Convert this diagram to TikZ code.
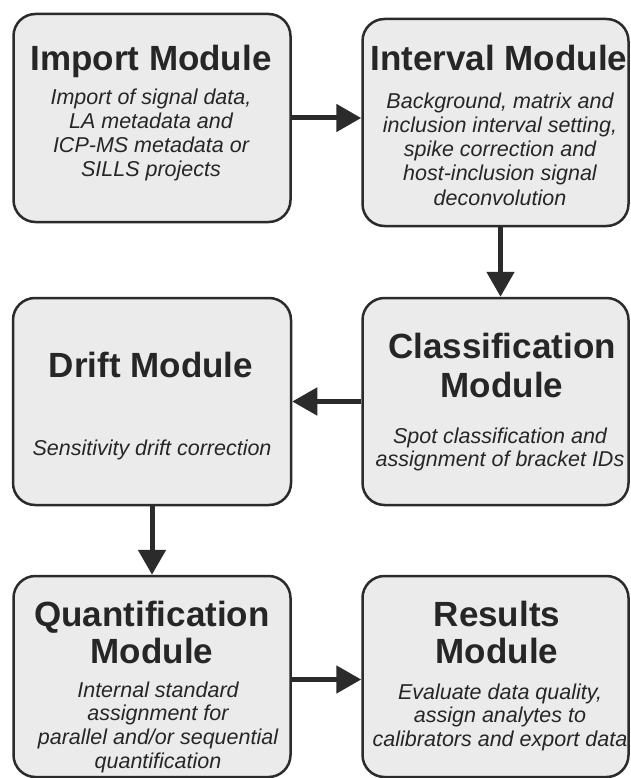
\documentclass[tikz,border=0pt]{standalone}
\usepackage{fontspec}
\setmainfont{Liberation Sans}
\usetikzlibrary{arrows.meta}
\definecolor{boxfill}{HTML}{EAEBEA}
\definecolor{ink}{HTML}{2B2B2B}
\definecolor{txt}{HTML}{262626}
\begin{document}
\begin{tikzpicture}[x=1pt,y=-1pt,
  modbox/.style={draw=ink, line width=2.5pt, fill=boxfill, rounded corners=22pt, inner sep=0pt, rectangle},
  ttl/.style={text=txt, font=\fontsize{35}{39}\selectfont\bfseries, align=center, inner sep=0pt},
  ttlb/.style={text=txt, font=\fontsize{35}{37}\selectfont\bfseries, align=center, inner sep=0pt},
  dsc/.style={text=txt, font=\fontsize{21.5}{24.2}\selectfont\itshape, align=center, inner sep=0pt},
  flow/.style={draw=ink, line width=5pt, -{Triangle[length=25pt,width=27pt]}}]
\clip (0,0) rectangle (630,778);
\fill[white] (0,0) rectangle (630,778);
% boxes
\node[modbox, minimum width=277pt, minimum height=208pt] (imp) at (152,118) {};
\node[modbox, minimum width=266pt, minimum height=207pt] (int) at (495.5,122.5) {};
\node[modbox, minimum width=266pt, minimum height=207pt] (cls) at (495.5,401.5) {};
\node[modbox, minimum width=278pt, minimum height=207pt] (dri) at (152,401.5) {};
\node[modbox, minimum width=277pt, minimum height=201pt] (qua) at (152,676.5) {};
\node[modbox, minimum width=266pt, minimum height=201pt] (res) at (495.5,676.5) {};
% titles
\node[ttl, anchor=base] (impT) at (151,71) {Import Module};
\node[ttl, anchor=base] (intT) at (499,71) {Interval Module};
\node[ttl, anchor=base] (driT) at (151,377) {Drift Module};
\node[ttl] (clsT) at (502,365) {Classification\\Module};
\node[ttlb] (quaT) at (152,632) {Quantification\\Module};
\node[ttlb] (resT) at (497,632) {Results\\Module};
% descriptions
\node[dsc] (impD) at (151,135) {Import of signal data,\\LA metadata and\\ICP-MS metadata or\\SILLS projects};
\node[dsc] (intD) at (500,149) {Background, matrix and\\inclusion interval setting,\\spike correction and\\host-inclusion signal\\deconvolution};
\node[dsc, anchor=base] (driD) at (152,455) {Sensitivity drift correction};
\node[dsc, font=\fontsize{21.5}{23}\selectfont\itshape] (clsD) at (500,449) {Spot classification and\\assignment of bracket IDs};
\node[dsc, font=\fontsize{21.5}{23.7}\selectfont\itshape] (quaD) at (158,727) {Internal standard\\assignment for\\parallel and/or sequential\\quantification};
\node[dsc, font=\fontsize{21.5}{23.5}\selectfont\itshape] (resD) at (500,717) {Evaluate data quality,\\assign analytes to\\calibrators and export data};
% connectors
\draw[flow] (imp.east) -- (imp.east -| int.west);
\draw[flow] ([xshift=5pt]int.south) -- ([xshift=5pt]int.south |- cls.north);
\draw[flow] (cls.west) -- (cls.west -| dri.east);
\draw[flow] (dri.south) -- (dri.south |- qua.north);
\draw[flow] ([yshift=-3pt]qua.east) -- ([yshift=-3pt]qua.east -| res.west);
\end{tikzpicture}
\end{document}
